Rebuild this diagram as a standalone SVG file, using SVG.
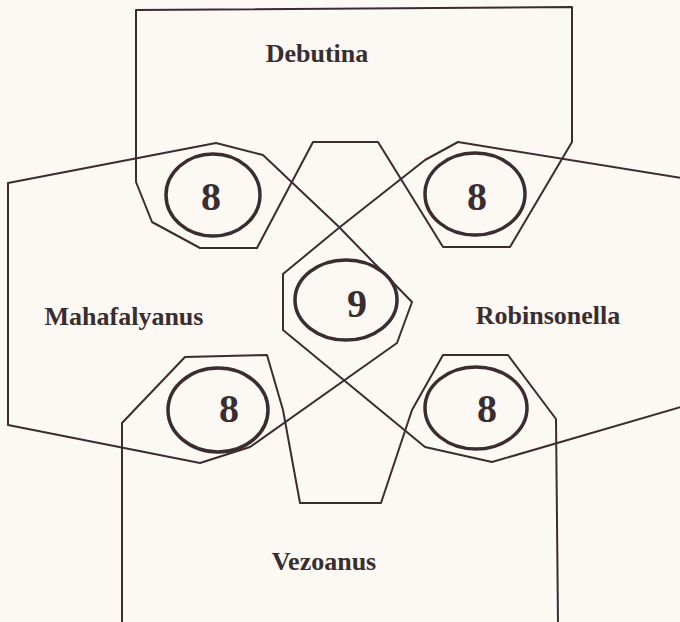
<svg xmlns="http://www.w3.org/2000/svg" width="680" height="622" viewBox="0 0 680 622">
<style>
.ln{fill:none;stroke:#3a2d30;stroke-width:2;stroke-linejoin:round}
.ov{fill:none;stroke:#3a2d30;stroke-width:3.5}
.lb{font-family:"Liberation Serif","Times New Roman",serif;font-weight:bold;font-size:26px;fill:#3a2d30;text-anchor:middle}
.nm{font-family:"Liberation Serif","Times New Roman",serif;font-weight:bold;font-size:40px;fill:#3a2d30;text-anchor:middle}
</style>
<rect width="680" height="622" fill="#fcf8f4"/>
<g id="debutina">
<polygon class="ln" points="136,10 572,7 572,142 510,247 443,247 378,142 313,142 257,248 200,248 152,222 136,182"/>
<text class="lb" x="317" y="62">Debutina</text>
</g>
<g id="mahafalyanus">
<polygon class="ln" points="8,183 216,143 263,155 338,226 412,302 397,343 250,447 200,463 8,425"/>
<text class="lb" x="124" y="325">Mahafalyanus</text>
</g>
<g id="robinsonella">
<polyline class="ln" points="681,178 458,142 425,160 340,227 283,274 283,330 425,447 492,462 681,407"/>
<text class="lb" x="548" y="324">Robinsonella</text>
</g>
<g id="vezoanus">
<polyline class="ln" points="122,623 122,423 185,357 267,355 283,410 300,503 381,503 412,410 443,355 508,355 556,419 558,623"/>
<text class="lb" x="324" y="570">Vezoanus</text>
</g>
<g id="overlap-debutina-mahafalyanus">
<ellipse class="ov" cx="213" cy="195" rx="47" ry="41"/>
<text class="nm" x="211" y="210">8</text>
</g>
<g id="overlap-debutina-robinsonella">
<ellipse class="ov" cx="475" cy="194" rx="50" ry="41"/>
<text class="nm" x="477" y="210">8</text>
</g>
<g id="overlap-center">
<ellipse class="ov" cx="346" cy="300" rx="51" ry="40"/>
<text class="nm" x="357" y="317">9</text>
</g>
<g id="overlap-mahafalyanus-vezoanus">
<ellipse class="ov" cx="218" cy="410" rx="50" ry="42"/>
<text class="nm" x="229" y="422">8</text>
</g>
<g id="overlap-robinsonella-vezoanus">
<ellipse class="ov" cx="476" cy="408" rx="51" ry="41"/>
<text class="nm" x="487" y="422">8</text>
</g>
<g id="connectors"/>
</svg>
